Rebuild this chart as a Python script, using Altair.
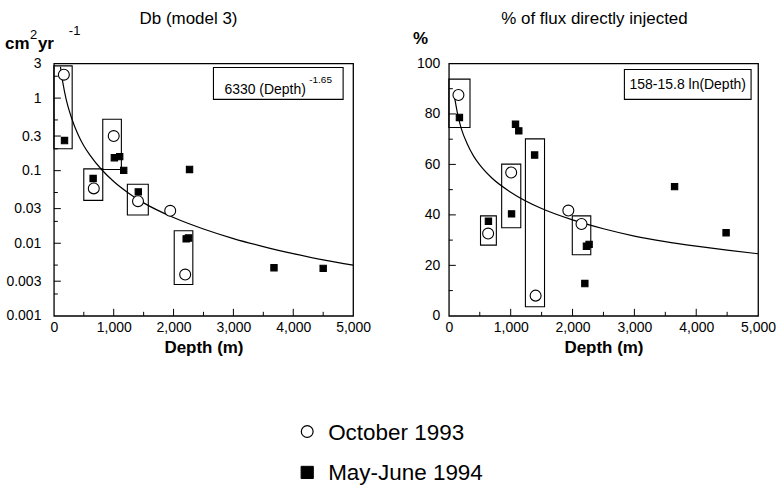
import altair as alt
import pandas as pd

SERIES = ["October 1993", "May-June 1994"]

# ---- Left panel: Db (model 3) ----
db_oct_depth = [167, 667, 1000, 1406, 1944, 2194]
db_oct = [2.1, 0.057, 0.30, 0.038, 0.028, 0.0037]
db_may_depth = [178, 656, 1011, 1100, 1167, 1411, 2267, 2211, 2250, 3678, 4500]
db_may = [0.26, 0.078, 0.151, 0.156, 0.101, 0.051, 0.104, 0.0115, 0.0118, 0.0046, 0.0045]

db_box_x0 = [0, 500, 817, 1228, 2011]
db_box_x1 = [306, 817, 1128, 1578, 2322]
db_box_top = [2.78, 0.106, 0.51, 0.065, 0.0149]
db_box_bot = [0.20, 0.039, 0.104, 0.0245, 0.0027]

db_fit_depth = [110, 150, 200, 300, 400, 500, 600, 800, 1000, 1250, 1500, 2000, 2500, 3000, 3500, 4000, 4500, 5000]
db_fit = [2.7, 1.63, 1.01, 0.52, 0.32, 0.22, 0.165, 0.103, 0.071, 0.049, 0.036, 0.0226, 0.0157, 0.0116, 0.0090, 0.0072, 0.0059, 0.0050]

db_ticks = [0.001, 0.003, 0.01, 0.03, 0.1, 0.3, 1, 3]
db_minor = [0.002, 0.005, 0.02, 0.05, 0.2, 0.5, 2]

# ---- Right panel: % of flux directly injected ----
pct_oct_depth = [155, 635, 1008, 1403, 1932, 2145]
pct_oct = [87.5, 32.6, 56.8, 8.0, 41.7, 36.4]
pct_may_depth = [171, 640, 1014, 1078, 1131, 1387, 2199, 2225, 2268, 3650, 4483]
pct_may = [78.6, 37.5, 40.4, 75.9, 73.3, 63.7, 12.8, 27.6, 28.3, 51.2, 32.9]

pct_box_x0 = [0, 512, 854, 1238, 1996]
pct_box_x1 = [342, 768, 1163, 1547, 2295]
pct_box_top = [93.8, 39.6, 60.1, 70.1, 39.6]
pct_box_bot = [74.6, 28.0, 34.9, 3.6, 24.2]

pct_fit_depth = [90, 150, 200, 300, 400, 500, 700, 1000, 1500, 2000, 2500, 3000, 3500, 4000, 4500, 5000]
pct_fit = [87, 79, 74.3, 68, 63.3, 59.8, 54.5, 49, 42.5, 38, 34.5, 31.6, 29.4, 27.6, 26.0, 24.6]

pct_ticks = [0, 20, 40, 60, 80, 100]
pct_minor = [10, 30, 50, 70, 90]

x_ticks = [0, 1000, 2000, 3000, 4000, 5000]
x_minor = [500, 1500, 2500, 3500, 4500]

FONT = "Liberation Sans"
W_L, W_R, H = 300, 310, 253


def pts_frame(oct_d, oct_v, may_d, may_v):
    rows = [{"depth": d, "val": v, "series": SERIES[1]} for d, v in zip(may_d, may_v)]
    rows += [{"depth": d, "val": v, "series": SERIES[0]} for d, v in zip(oct_d, oct_v)]
    return pd.DataFrame(rows)


def txt(s):
    return alt.Chart(pd.DataFrame({"t": [s]}))


def panel(width, xscale, yscale, yaxis, pts, boxes, fit, yt_major, yt_minor, annotations):
    X = alt.X("depth:Q", scale=xscale,
              axis=alt.Axis(values=x_ticks, labelExpr="format(datum.value, ',')", title="Depth (m)",
                            labelPadding=5, titlePadding=5))
    Y = alt.Y("val:Q", scale=yscale, axis=yaxis)

    box_layer = alt.Chart(boxes).mark_rect(fill=None, stroke="black", strokeWidth=1.1).encode(
        x=X, x2="depth2:Q", y=Y, y2="val2:Q")
    fit_layer = alt.Chart(fit).mark_line(color="black", strokeWidth=1.2, clip=True,
                                         interpolate="monotone").encode(x=X, y=Y)

    xt = alt.Chart(pd.DataFrame({"depth": x_ticks[1:-1]})).mark_rule(color="black").encode(
        x=X, y=alt.value(H), y2=alt.value(H - 7))
    xtm = alt.Chart(pd.DataFrame({"depth": x_minor})).mark_rule(color="black").encode(
        x=X, y=alt.value(H), y2=alt.value(H - 4))
    yt = alt.Chart(pd.DataFrame({"val": yt_major})).mark_rule(color="black").encode(
        y=Y, x=alt.value(0), x2=alt.value(7))
    ytm = alt.Chart(pd.DataFrame({"val": yt_minor})).mark_rule(color="black").encode(
        y=Y, x=alt.value(0), x2=alt.value(4))

    pt_layer = alt.Chart(pts).mark_point(filled=True, stroke="black", strokeWidth=1.1, opacity=1).encode(
        x=X, y=Y,
        shape=alt.Shape("series:N", scale=alt.Scale(domain=SERIES, range=["circle", "square"]), legend=None),
        fill=alt.Fill("series:N", scale=alt.Scale(domain=SERIES, range=["white", "black"]), legend=None),
        size=alt.Size("series:N", scale=alt.Scale(domain=SERIES, range=[120, 40]), legend=None),
    )
    layers = [box_layer, fit_layer, xt, xtm, yt, ytm, pt_layer] + annotations
    return alt.layer(*layers).properties(width=width, height=H)


xscale = alt.Scale(domain=[0, 5000], nice=False)

# legend (drawn under the left panel, centred on the figure)
LEG_Y = [369, 410]
legend_layers = [
    txt(SERIES[0]).mark_point(shape="circle", filled=True, fill="white", stroke="black",
                              strokeWidth=1.2, size=140, opacity=1).encode(
        x=alt.value(254), y=alt.value(LEG_Y[0])),
    txt(SERIES[1]).mark_point(shape="square", filled=True, fill="black", stroke="black",
                              strokeWidth=1, size=150, opacity=1).encode(
        x=alt.value(254), y=alt.value(LEG_Y[1])),
    txt(SERIES[0]).mark_text(fontSize=22.5, align="left", baseline="middle", dy=1).encode(
        text="t:N", x=alt.value(275), y=alt.value(LEG_Y[0])),
    txt(SERIES[1]).mark_text(fontSize=22.5, align="left", baseline="middle", dy=1).encode(
        text="t:N", x=alt.value(275), y=alt.value(LEG_Y[1])),
]

# annotations left
ann_left = [
    txt("Db (model 3)").mark_text(fontSize=17, align="center", baseline="alphabetic").encode(
        text="t:N", x=alt.value(135), y=alt.value(-40)),
    txt("cm").mark_text(fontSize=17, fontWeight="bold", align="left", baseline="alphabetic").encode(
        text="t:N", x=alt.value(-49), y=alt.value(-15)),
    txt("2").mark_text(fontSize=13, align="left", baseline="alphabetic").encode(
        text="t:N", x=alt.value(-24), y=alt.value(-25)),
    txt("yr").mark_text(fontSize=17, fontWeight="bold", align="left", baseline="alphabetic").encode(
        text="t:N", x=alt.value(-16), y=alt.value(-15)),
    txt("-1").mark_text(fontSize=13, align="left", baseline="alphabetic").encode(
        text="t:N", x=alt.value(15), y=alt.value(-29)),
    txt("").mark_rect(fill="white", stroke="black", strokeWidth=1.1).encode(
        x=alt.value(160), x2=alt.value(290), y=alt.value(4), y2=alt.value(36)),
    txt("6330 (Depth)").mark_text(fontSize=14, align="left", baseline="alphabetic").encode(
        text="t:N", x=alt.value(171), y=alt.value(31)),
    txt("-1.65").mark_text(fontSize=10, align="left", baseline="alphabetic").encode(
        text="t:N", x=alt.value(256), y=alt.value(20)),
] + legend_layers

ann_right = [
    txt("% of flux directly injected").mark_text(fontSize=17, align="center", baseline="alphabetic").encode(
        text="t:N", x=alt.value(146), y=alt.value(-40)),
    txt("%").mark_text(fontSize=17, fontWeight="bold", align="left", baseline="alphabetic").encode(
        text="t:N", x=alt.value(-36), y=alt.value(-20)),
    txt("").mark_rect(fill="white", stroke="black", strokeWidth=1.1).encode(
        x=alt.value(176), x2=alt.value(303), y=alt.value(6), y2=alt.value(36)),
    txt("158-15.8 ln(Depth)").mark_text(fontSize=14, align="center", baseline="alphabetic").encode(
        text="t:N", x=alt.value(239.5), y=alt.value(26)),
]

left = panel(
    W_L, xscale,
    alt.Scale(type="log", domain=[0.001, 3], nice=False),
    alt.Axis(values=db_ticks, format="~g", title=None, labelPadding=13),
    pts_frame(db_oct_depth, db_oct, db_may_depth, db_may),
    pd.DataFrame({"depth": db_box_x0, "depth2": db_box_x1, "val": db_box_top, "val2": db_box_bot}),
    pd.DataFrame({"depth": db_fit_depth, "val": db_fit}),
    db_ticks[1:-1], db_minor, ann_left,
)

right = panel(
    W_R, xscale,
    alt.Scale(domain=[0, 100], nice=False),
    alt.Axis(values=pct_ticks, title=None, labelPadding=9),
    pts_frame(pct_oct_depth, pct_oct, pct_may_depth, pct_may),
    pd.DataFrame({"depth": pct_box_x0, "depth2": pct_box_x1, "val": pct_box_top, "val2": pct_box_bot}),
    pd.DataFrame({"depth": pct_fit_depth, "val": pct_fit}),
    pct_ticks[1:-1], pct_minor, ann_right,
)

chart = alt.hconcat(left, right, spacing=96, bounds="flush").resolve_scale(
    shape="independent", fill="independent", size="independent"
).properties(
    padding={"left": 4, "top": 8, "right": 5, "bottom": 5}, background="white"
).configure(font=FONT).configure_view(
    stroke="black", strokeWidth=1.3
).configure_axis(
    domain=False, ticks=False, grid=False, labelFontSize=14, labelColor="black",
    titleFontSize=17, titleFontWeight="bold", titleColor="black", labelFlush=False
)

chart.save("out.html", embed_options={"renderer": "svg", "actions": False})
